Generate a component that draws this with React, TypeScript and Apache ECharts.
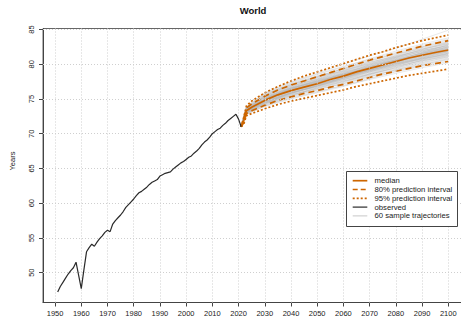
import React, { useEffect, useRef } from "react";
import * as echarts from "echarts";

const xTicks = [1950, 1960, 1970, 1980, 1990, 2000, 2010, 2020, 2030, 2040, 2050, 2060, 2070, 2080, 2090, 2100];
const yTicks = [50, 55, 60, 65, 70, 75, 80, 85];

const obsStartYear = 1951;
const observed = [
  47.2, 48.0, 48.6, 49.2, 49.8, 50.3, 50.7, 51.5, 49.6, 47.7,
  50.4, 53.0, 53.6, 54.1, 53.8, 54.4, 54.9, 55.3, 55.8, 56.1,
  55.9, 57.0, 57.5, 57.9, 58.3, 58.8, 59.4, 59.8, 60.2, 60.6,
  61.1, 61.5, 61.7, 62.0, 62.3, 62.7, 63.0, 63.2, 63.4, 63.9,
  64.1, 64.3, 64.4, 64.5, 64.9, 65.2, 65.5, 65.8, 66.0, 66.3,
  66.6, 66.8, 67.2, 67.5, 67.9, 68.4, 68.8, 69.1, 69.5, 70.0,
  70.3, 70.6, 70.8, 71.2, 71.5, 71.9, 72.2, 72.5, 72.8, 72.1,
  71.0,
];

const projYears = [2021, 2022, 2023, 2025, 2030, 2035, 2040, 2045, 2050, 2055, 2060, 2065, 2070, 2075, 2080, 2085, 2090, 2095, 2100];
const median = [71.0, 71.9, 73.3, 73.8, 74.8, 75.6, 76.2, 76.7, 77.2, 77.8, 78.3, 78.9, 79.4, 79.9, 80.4, 80.9, 81.3, 81.7, 82.05];
const pi80Upper = [71.0, 72.2, 73.7, 74.3, 75.4, 76.3, 77.0, 77.6, 78.2, 78.8, 79.4, 80.0, 80.6, 81.1, 81.6, 82.1, 82.6, 83.0, 83.4];
const pi80Lower = [71.0, 71.6, 72.9, 73.3, 74.1, 74.8, 75.3, 75.8, 76.2, 76.7, 77.1, 77.6, 78.1, 78.6, 79.0, 79.4, 79.8, 80.1, 80.4];
const pi95Upper = [71.0, 72.4, 74.0, 74.7, 75.9, 76.8, 77.6, 78.3, 78.9, 79.5, 80.1, 80.7, 81.3, 81.8, 82.4, 82.9, 83.4, 83.8, 84.2];
const pi95Lower = [71.0, 71.4, 72.6, 72.9, 73.6, 74.2, 74.7, 75.1, 75.5, 75.9, 76.3, 76.8, 77.2, 77.6, 78.0, 78.4, 78.7, 79.0, 79.3];

const trajYears = [2021, 2023, 2030, 2040, 2050, 2060, 2070, 2080, 2090, 2100];
const trajectories = [
  [71.0, 73.5, 75.2, 76.8, 77.9, 79.1, 80.3, 81.2, 82.3, 83.1],
  [71.0, 73.1, 74.4, 75.6, 76.5, 77.4, 78.6, 79.5, 80.3, 81.0],
  [71.0, 73.4, 74.9, 76.5, 77.6, 78.5, 79.5, 80.7, 81.6, 82.5],
  [71.0, 73.2, 74.6, 75.9, 76.8, 78.0, 79.0, 79.9, 80.8, 81.4],
  [71.0, 73.7, 75.6, 77.3, 78.5, 79.6, 80.8, 81.9, 82.9, 83.8],
  [71.0, 72.9, 74.1, 75.2, 76.1, 76.9, 77.8, 78.7, 79.5, 80.2],
  [71.0, 73.3, 74.7, 76.3, 77.4, 78.6, 79.9, 80.6, 81.5, 82.2],
  [71.0, 73.6, 75.3, 76.6, 77.5, 78.4, 79.3, 80.5, 81.7, 82.8],
  [71.0, 73.0, 74.3, 75.8, 77.0, 78.2, 79.2, 80.1, 80.9, 81.6],
  [71.0, 73.4, 75.0, 76.1, 77.1, 78.1, 79.1, 80.2, 81.2, 81.9],
  [71.0, 73.8, 75.8, 77.0, 78.1, 79.4, 80.5, 81.4, 82.5, 83.5],
  [71.0, 73.1, 74.5, 75.7, 76.4, 77.2, 78.2, 79.2, 80.0, 80.7],
  [71.0, 73.5, 75.1, 76.4, 77.3, 78.8, 79.8, 80.9, 81.8, 82.4],
  [71.0, 73.2, 74.8, 76.2, 77.5, 78.3, 79.1, 80.0, 81.0, 81.9],
  [71.0, 72.8, 73.9, 75.0, 75.9, 76.8, 77.9, 79.0, 79.8, 80.6],
  [71.0, 73.6, 75.4, 77.1, 78.2, 79.0, 80.0, 81.1, 82.0, 82.7],
  [71.0, 73.3, 74.7, 75.9, 76.9, 78.0, 79.3, 80.4, 81.4, 82.1],
  [71.0, 73.4, 75.0, 76.6, 77.8, 78.9, 79.7, 80.6, 81.3, 82.0],
  [71.0, 73.0, 74.2, 75.4, 76.6, 77.6, 78.5, 79.6, 80.6, 81.3],
  [71.0, 73.9, 75.9, 77.5, 78.7, 80.0, 81.2, 82.3, 83.6, 84.9],
  [71.0, 73.2, 74.6, 76.0, 77.0, 78.1, 79.2, 80.2, 81.0, 81.7],
  [71.0, 73.5, 75.2, 76.5, 77.4, 78.4, 79.6, 80.8, 81.9, 82.9],
  [71.0, 73.1, 74.4, 75.5, 76.7, 77.8, 78.8, 79.7, 80.5, 81.2],
  [71.0, 73.3, 74.9, 76.4, 77.7, 78.6, 79.4, 80.3, 81.1, 82.0],
  [71.0, 73.7, 75.5, 76.9, 77.8, 78.7, 79.9, 81.0, 82.2, 83.0],
  [71.0, 72.9, 74.0, 75.3, 76.3, 77.3, 78.4, 79.3, 80.2, 81.1],
  [71.0, 73.4, 74.8, 76.1, 77.2, 78.5, 79.7, 80.5, 81.4, 82.3],
  [71.0, 73.6, 75.3, 76.7, 78.0, 79.2, 80.1, 81.2, 82.0, 82.6],
  [71.0, 73.2, 74.5, 75.8, 76.8, 77.7, 78.7, 79.8, 80.9, 81.8],
  [71.0, 73.4, 75.0, 76.3, 77.1, 78.0, 79.0, 80.1, 81.1, 82.0],
  [71.0, 73.8, 75.7, 77.2, 78.3, 79.3, 80.4, 81.6, 82.5, 83.3],
  [71.0, 73.0, 74.3, 75.5, 76.5, 77.5, 78.3, 79.1, 79.9, 80.8],
  [71.0, 73.3, 74.8, 76.2, 77.3, 78.3, 79.5, 80.7, 81.6, 82.2],
  [71.0, 73.5, 75.1, 76.7, 77.6, 78.7, 79.6, 80.4, 81.3, 82.1],
  [71.0, 73.1, 74.4, 75.7, 76.9, 77.9, 78.9, 79.9, 80.7, 81.5],
  [71.0, 73.6, 75.4, 76.8, 77.9, 79.0, 80.2, 81.3, 82.4, 83.2],
  [71.0, 73.2, 74.7, 76.0, 76.9, 77.8, 78.9, 80.0, 80.8, 81.6],
  [71.0, 73.4, 75.0, 76.4, 77.5, 78.5, 79.3, 80.3, 81.5, 82.4],
  [71.0, 72.8, 74.0, 75.1, 76.0, 77.0, 78.0, 78.9, 79.7, 80.4],
  [71.0, 73.7, 75.6, 77.0, 78.2, 79.4, 80.6, 81.5, 82.2, 82.9],
  [71.0, 73.3, 74.6, 76.1, 77.3, 78.2, 79.1, 80.2, 81.3, 82.3],
  [71.0, 73.5, 75.1, 76.3, 77.2, 78.4, 79.7, 80.9, 81.9, 82.7],
  [71.0, 73.1, 74.5, 75.9, 76.9, 77.8, 78.6, 79.4, 80.4, 81.3],
  [71.0, 73.4, 74.9, 76.5, 77.7, 78.8, 79.9, 80.8, 81.6, 82.3],
  [71.0, 73.6, 75.3, 76.6, 77.4, 78.3, 79.2, 80.3, 81.5, 82.5],
  [71.0, 73.2, 74.6, 75.8, 76.7, 77.6, 78.5, 79.5, 80.6, 81.4],
  [71.0, 73.9, 75.8, 77.4, 78.6, 79.7, 80.7, 81.7, 82.7, 83.6],
  [71.0, 73.0, 74.3, 75.6, 76.6, 77.5, 78.6, 79.7, 80.5, 81.1],
  [71.0, 73.3, 74.9, 76.3, 77.4, 78.6, 79.7, 80.6, 81.4, 82.1],
  [71.0, 73.5, 75.0, 76.5, 77.6, 78.5, 79.4, 80.5, 81.6, 82.6],
  [71.0, 73.1, 74.4, 75.9, 77.1, 78.0, 78.9, 79.8, 80.7, 81.6],
  [71.0, 73.4, 75.1, 76.6, 77.8, 78.9, 80.0, 81.0, 81.8, 82.5],
  [71.0, 73.2, 74.7, 75.9, 76.8, 78.0, 79.1, 80.0, 80.9, 81.8],
  [71.0, 73.6, 75.4, 76.9, 78.1, 79.1, 80.1, 81.0, 82.1, 83.0],
  [71.0, 72.9, 74.2, 75.4, 76.3, 77.2, 78.2, 79.2, 80.1, 80.9],
  [71.0, 73.3, 74.8, 76.2, 77.0, 78.2, 79.3, 80.4, 81.3, 81.9],
  [71.0, 73.5, 75.2, 76.4, 77.6, 78.6, 79.5, 80.6, 81.7, 82.8],
  [71.0, 73.2, 74.5, 75.8, 76.9, 78.1, 79.2, 80.1, 80.8, 81.5],
  [71.0, 73.7, 75.5, 77.1, 78.3, 79.3, 80.3, 81.1, 82.1, 83.2],
  [71.0, 73.4, 75.0, 76.2, 77.3, 78.4, 79.6, 80.5, 81.2, 81.8],
];

const legendLabels = ["median", "80% prediction interval", "95% prediction interval", "observed", "60 sample trajectories"];

const ORANGE = "#CD6600";
const FONT = "'Liberation Sans', Arial, Helvetica, sans-serif";

export default function App() {
  const ref = useRef<HTMLDivElement>(null);
  useEffect(() => {
    if (!ref.current) return;
    const chart = echarts.init(ref.current, null, { renderer: "svg" });
    const pair = (xs: number[], ys: number[]) => xs.map((x, i) => [x, ys[i]]);
    const obsData = observed.map((v, i) => [obsStartYear + i, v]);

    const series: any[] = [];
    series.push({
      type: "line",
      data: [],
      silent: true,
      z: 1,
      markLine: {
        silent: true,
        symbol: ["none", "none"],
        label: { show: false },
        animation: false,
        lineStyle: { type: [1, 2], color: "#cfcfcf", width: 1 },
        data: [
          ...xTicks.map((x) => ({ xAxis: x })),
          ...yTicks.map((y) => ({ yAxis: y })),
        ],
      },
    });
    trajectories.forEach((t, k) => {
      series.push({
        type: "line",
        name: "traj" + k,
        data: pair(trajYears, t),
        showSymbol: false,
        silent: true,
        z: 2,
        lineStyle: { color: "rgba(175,175,175,0.28)", width: 1 },
      });
    });
    const band = (ys: number[], type: any, name: string) => ({
      type: "line",
      name,
      data: pair(projYears, ys),
      showSymbol: false,
      silent: true,
      z: 4,
      lineStyle: { color: ORANGE, width: 1.7, type },
    });
    series.push(band(pi95Upper, [2, 2], "95u"));
    series.push(band(pi95Lower, [2, 2], "95l"));
    series.push(band(pi80Upper, [6, 4], "80u"));
    series.push(band(pi80Lower, [6, 4], "80l"));
    series.push(band(median, "solid", "median"));
    series.push({
      type: "line",
      name: "observed",
      data: obsData,
      showSymbol: false,
      silent: true,
      z: 5,
      lineStyle: { color: "#2a2a2a", width: 1.2 },
    });

    const lx1 = 352.7, lx2 = 367.3, tx = 374.5;
    const rowY = [180.7, 189.5, 198.3, 207.1, 215.9];
    const legendStyles = [
      { stroke: ORANGE, lineWidth: 1.7, lineDash: null },
      { stroke: ORANGE, lineWidth: 1.7, lineDash: [5, 3] },
      { stroke: ORANGE, lineWidth: 1.7, lineDash: [2, 2] },
      { stroke: "#2a2a2a", lineWidth: 1.2, lineDash: null },
      { stroke: "#c8c8c8", lineWidth: 1, lineDash: null },
    ];
    const graphic: any[] = [
      {
        type: "text",
        x: 253,
        y: 10,
        style: { text: "World", fontFamily: FONT, fontWeight: "bold", fontSize: 9.5, fill: "#111", textAlign: "center", textVerticalAlign: "middle" },
      },
      {
        type: "text",
        x: 12,
        y: 161,
        rotation: Math.PI / 2,
        style: { text: "Years", fontFamily: FONT, fontSize: 7.5, fill: "#222", textAlign: "center", textVerticalAlign: "middle" },
      },
      {
        type: "rect",
        shape: { x: 346.5, y: 171.5, width: 111, height: 55 },
        style: { fill: "#fff", stroke: "#444", lineWidth: 1 },
        z: 100,
      },
    ];
    legendLabels.forEach((lab, i) => {
      const st = legendStyles[i];
      graphic.push({
        type: "line",
        shape: { x1: lx1, y1: rowY[i], x2: lx2, y2: rowY[i] },
        style: { stroke: st.stroke, lineWidth: st.lineWidth, lineDash: st.lineDash || undefined },
        z: 101,
      });
      graphic.push({
        type: "text",
        x: tx,
        y: rowY[i],
        style: { text: lab, fontFamily: FONT, fontSize: 7.7, fill: "#222", textAlign: "left", textVerticalAlign: "middle" },
        z: 101,
      });
    });

    chart.setOption({
      animation: false,
      backgroundColor: "#fff",
      grid: { left: 43, top: 28.5, right: -3, bottom: 20.5, show: true, borderColor: "#666", borderWidth: 1, containLabel: false, outerBoundsMode: "none" },
      xAxis: {
        type: "value",
        min: 1945.4,
        max: 2106,
        splitLine: { show: false },
        axisLine: { show: true, lineStyle: { color: "#444", width: 1 } },
        axisTick: { show: true, length: 4, lineStyle: { color: "#444" }, customValues: xTicks },
        axisLabel: { customValues: xTicks, fontFamily: FONT, fontSize: 7.5, color: "#222", margin: 7, formatter: (v: number) => String(v) },
      },
      yAxis: {
        type: "value",
        min: 45.7,
        max: 85.15,
        splitLine: { show: false },
        axisLine: { show: true, lineStyle: { color: "#444", width: 1 } },
        axisTick: { show: true, length: 4, lineStyle: { color: "#444" }, customValues: yTicks },
        axisLabel: { customValues: yTicks, rotate: 90, fontFamily: FONT, fontSize: 7.5, color: "#222", margin: 8, formatter: (v: number) => String(v) },
      },
      series,
      graphic,
    });
    return () => chart.dispose();
  }, []);
  return <div ref={ref} style={{ width: 461, height: 323, position: "absolute", left: 0, top: 0 }} />;
}
